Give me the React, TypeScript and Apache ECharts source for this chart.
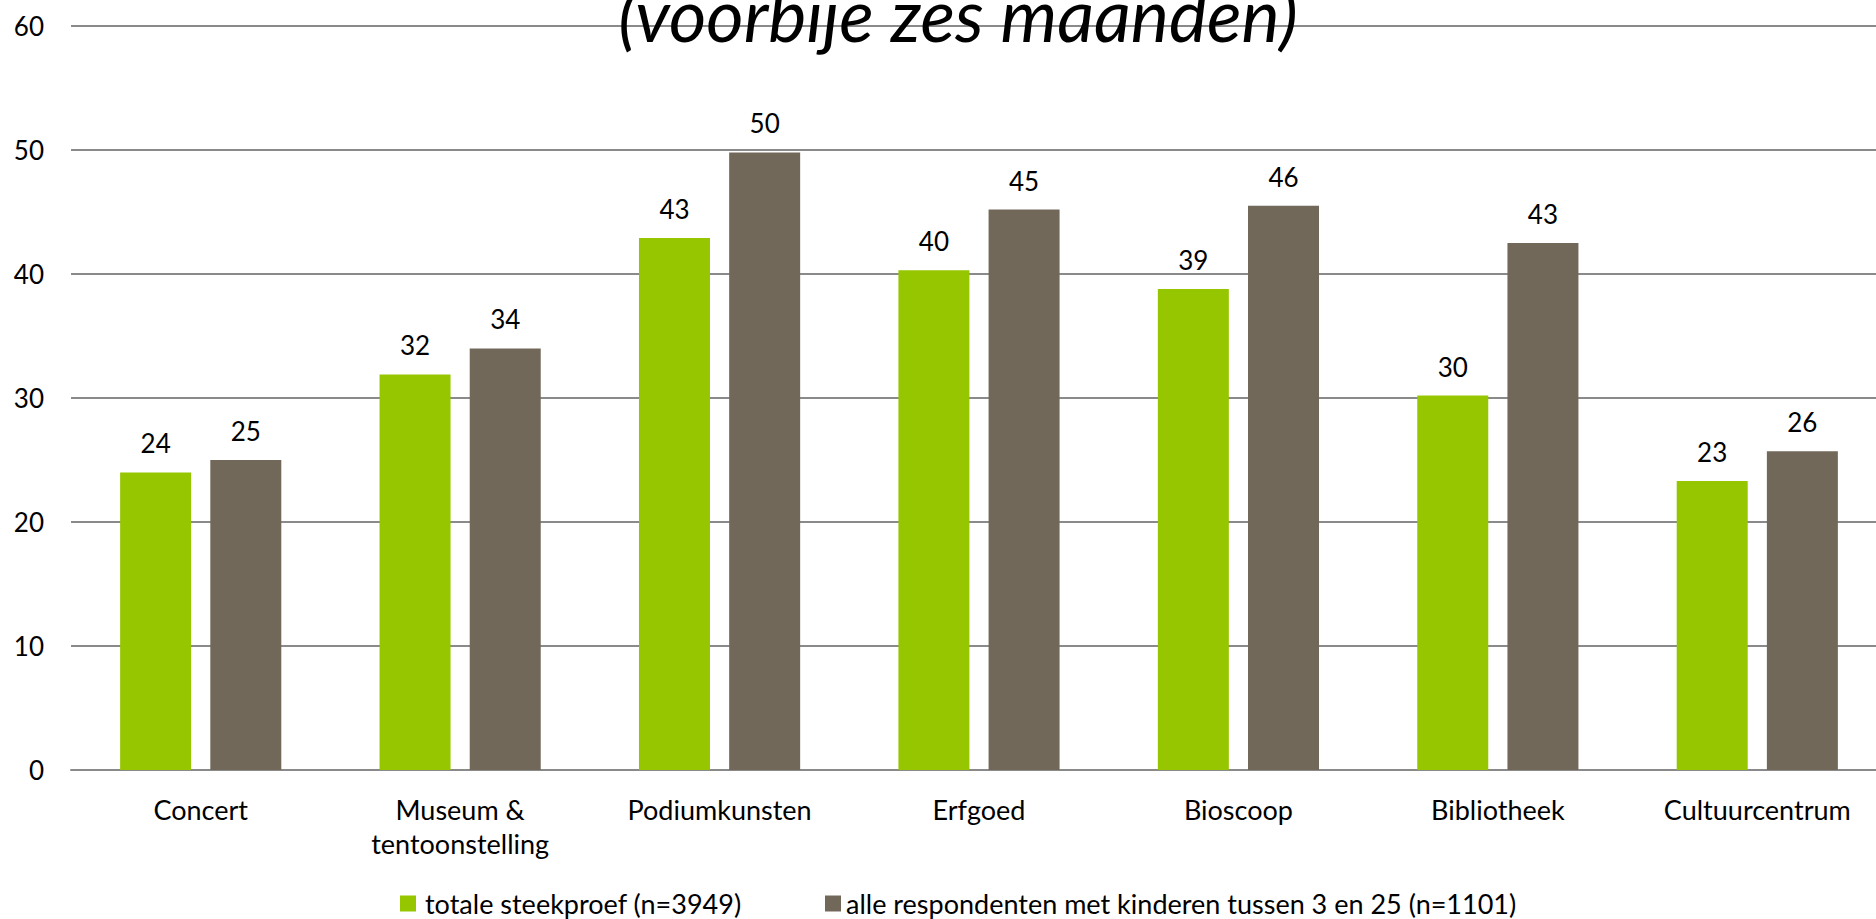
import React, { useEffect, useRef } from "react";
import * as echarts from "echarts";

const categories = [
  "Concert",
  "Museum &\ntentoonstelling",
  "Podiumkunsten",
  "Erfgoed",
  "Bioscoop",
  "Bibliotheek",
  "Cultuurcentrum",
];
const seriesNames = [
  "totale steekproef (n=3949)",
  "alle respondenten met kinderen tussen 3 en 25 (n=1101)",
];
const totaal = [24.0, 31.9, 42.9, 40.3, 38.8, 30.2, 23.3];
const kinderen = [25.0, 34.0, 49.8, 45.2, 45.5, 42.5, 25.7];
const yTicks = { min: 0, max: 60, interval: 10 };
const titleText = "(voorbije zes maanden)";

const FONT = "Lato";
const GREEN = "#95C600";
const GREY = "#72685A";
const GRID = "#8A8A8A";

export default function App() {
  const ref = useRef<HTMLDivElement>(null);
  useEffect(() => {
    if (!ref.current) return;
    const chart = echarts.init(ref.current, undefined, { renderer: "svg" });
    const label = {
      show: true,
      position: "top",
      distance: 16,
      color: "#000",
      fontFamily: FONT,
      fontSize: 26,
      formatter: (p: any) => String(Math.round(p.value)),
    };
    chart.setOption({
      animation: false,
      backgroundColor: "#fff",
      graphic: [
        {
          type: "text",
          x: 958,
          y: 14,
          z: 100,
          style: {
            text: titleText,
            fontFamily: FONT,
            fontStyle: "italic",
            fontSize: 72,
            fill: "#000",
            align: "center",
            verticalAlign: "middle",
          },
        },
      ],
      grid: { left: 71, right: 0, top: 26, bottom: 149, containLabel: false },
      legend: [
        {
          data: [seriesNames[0]],
          left: 400,
          top: 890,
          padding: 0,
          itemWidth: 16,
          itemHeight: 16,
          icon: "rect",
          textStyle: {
            fontFamily: FONT,
            fontSize: 27,
            lineHeight: 27,
            color: "#000",
            padding: [0, 0, 0, 4],
          },
        },
        {
          data: [seriesNames[1]],
          left: 825,
          top: 890,
          padding: 0,
          itemWidth: 16,
          itemHeight: 16,
          icon: "rect",
          textStyle: {
            fontFamily: FONT,
            fontSize: 27,
            lineHeight: 27,
            color: "#000",
            padding: [0, 0, 0, 0],
          },
        },
      ],
      xAxis: {
        type: "category",
        data: categories,
        axisLine: { show: true, lineStyle: { color: GRID, width: 2 } },
        axisTick: { show: false },
        axisLabel: {
          fontFamily: FONT,
          fontSize: 27,
          color: "#000",
          margin: 22,
          lineHeight: 34,
          interval: 0,
        },
      },
      yAxis: {
        type: "value",
        min: yTicks.min,
        max: yTicks.max,
        interval: yTicks.interval,
        axisLine: { show: false },
        axisTick: { show: false },
        splitLine: { show: true, lineStyle: { color: GRID, width: 2 } },
        axisLabel: { fontFamily: FONT, fontSize: 26, color: "#000", margin: 27 },
      },
      series: [
        {
          name: seriesNames[0],
          type: "bar",
          data: totaal,
          barWidth: 71,
          barGap: "27%",
          itemStyle: { color: GREEN },
          label,
        },
        {
          name: seriesNames[1],
          type: "bar",
          data: kinderen,
          barWidth: 71,
          barGap: "27%",
          itemStyle: { color: GREY },
          label,
        },
      ],
    });
    return () => chart.dispose();
  }, []);
  return (
    <div
      ref={ref}
      style={{ position: "fixed", left: 0, top: 0, width: 1887, height: 919 }}
    />
  );
}
